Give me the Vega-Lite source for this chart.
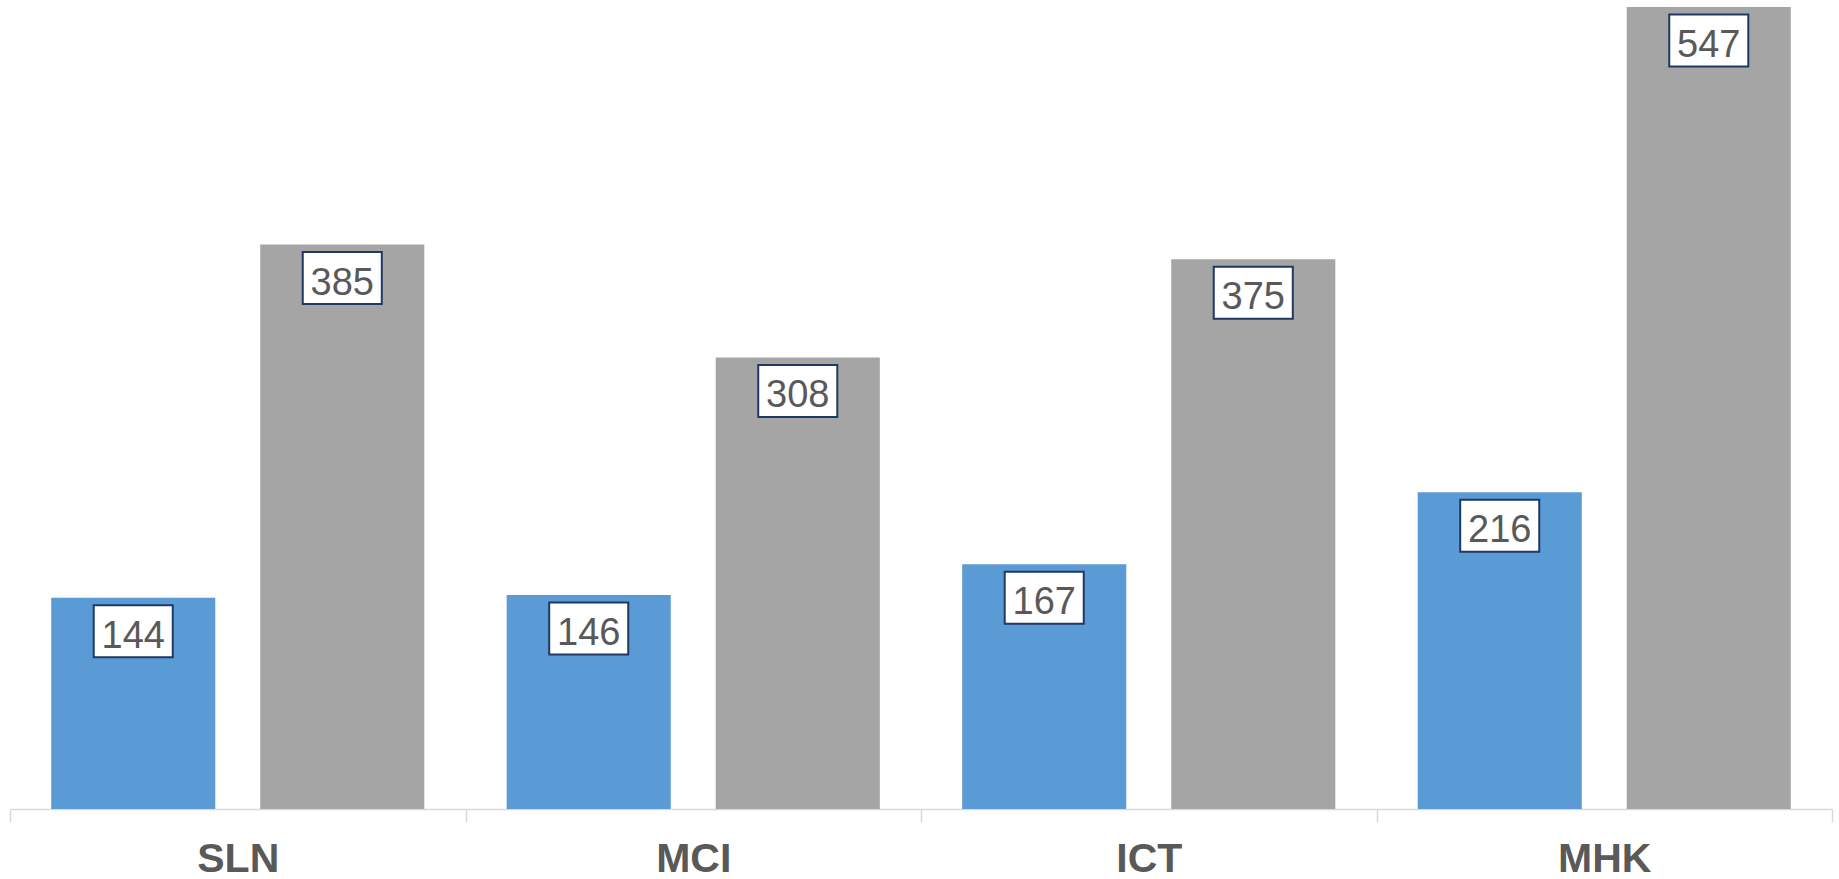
{
  "$schema": "https://vega.github.io/schema/vega-lite/v6.json",
  "autosize": "none",
  "width": 1822,
  "height": 802,
  "padding": {"left": 10, "top": 7, "right": 7, "bottom": 70},
  "background": "white",
  "config": {"view": {"stroke": null}, "font": "Liberation Sans"},
  "data": {
    "values": [
      {"site": "SLN", "series": "A", "value": 144},
      {"site": "SLN", "series": "B", "value": 385},
      {"site": "MCI", "series": "A", "value": 146},
      {"site": "MCI", "series": "B", "value": 308},
      {"site": "ICT", "series": "A", "value": 167},
      {"site": "ICT", "series": "B", "value": 375},
      {"site": "MHK", "series": "A", "value": 216},
      {"site": "MHK", "series": "B", "value": 547}
    ]
  },
  "encoding": {
    "x": {
      "field": "site", "type": "nominal", "sort": ["SLN", "MCI", "ICT", "MHK"],
      "scale": {"paddingInner": 0, "paddingOuter": 0},
      "axis": {
        "title": null, "labelAngle": 0, "tickBand": "extent",
        "domainColor": "#d9d9d9", "domainWidth": 1.5,
        "tickColor": "#d9d9d9", "tickWidth": 1.5, "tickSize": 13,
        "labelFont": "Liberation Sans", "labelFontSize": 41, "labelFontWeight": "bold",
        "labelColor": "#595959", "labelBaseline": "alphabetic", "labelPadding": 49
      }
    },
    "xOffset": {
      "field": "series", "type": "nominal",
      "scale": {"paddingInner": 0.215, "paddingOuter": 0.197}
    },
    "y": {
      "field": "value", "type": "quantitative",
      "scale": {"domain": [0, 547], "nice": false, "zero": true},
      "axis": null
    }
  },
  "layer": [
    {
      "mark": {"type": "bar"},
      "encoding": {
        "color": {
          "field": "series", "type": "nominal",
          "scale": {"domain": ["A", "B"], "range": ["#5b9bd5", "#a5a5a5"]},
          "legend": null
        }
      }
    },
    {
      "mark": {
        "type": "point", "filled": true, "fill": "white", "stroke": "#1f3864",
        "strokeWidth": 2, "opacity": 1, "strokeOpacity": 1, "fillOpacity": 1,
        "shape": "M-0.76,-0.5H0.76V0.5H-0.76Z", "size": 10816, "yOffset": 33.5
      }
    },
    {
      "mark": {
        "type": "text", "font": "Liberation Sans", "fontSize": 38, "color": "#595959",
        "baseline": "alphabetic", "align": "center", "yOffset": 50
      },
      "encoding": {"text": {"field": "value", "type": "quantitative"}}
    }
  ]
}
